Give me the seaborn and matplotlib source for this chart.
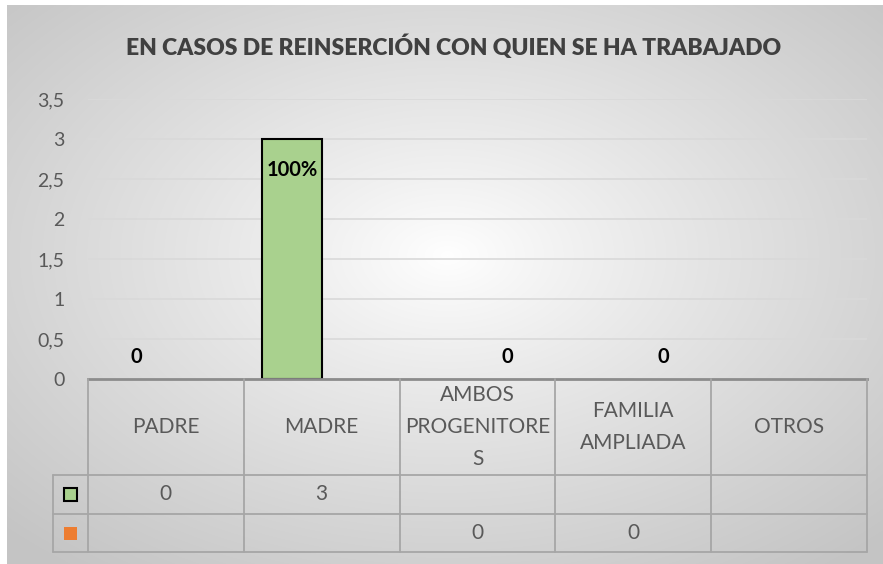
import numpy as np
import pandas as pd
import matplotlib
matplotlib.use("Agg")
import matplotlib.pyplot as plt
from matplotlib.ticker import FuncFormatter
import seaborn as sns

# data
categories = ["PADRE", "MADRE", "AMBOS PROGENITORES", "FAMILIA AMPLIADA", "OTROS"]
header_labels = ["PADRE", "MADRE", "AMBOS\nPROGENITORE\nS", "FAMILIA\nAMPLIADA", "OTROS"]
serie1 = [0, 3, None, None, None]
serie2 = [None, None, 0, 0, None]
serie1_labels = ["0", "100%", "", "", ""]
serie2_labels = ["", "", "0", "0", ""]
title = "EN CASOS DE REINSERCIÓN CON QUIEN SE HA TRABAJADO"

green = "#A9D18E"
orange = "#ED7D31"
txtcol = "#595959"

rows = []
for i, c in enumerate(categories):
    if serie1[i] is not None:
        rows.append({"cat": c, "serie": "s1", "val": serie1[i], "lab": serie1_labels[i]})
    if serie2[i] is not None:
        rows.append({"cat": c, "serie": "s2", "val": serie2[i], "lab": serie2_labels[i]})
df = pd.DataFrame(rows)

sns.set_style("white")
plt.rcParams["font.family"] = ["Lato", "DejaVu Sans"]

W, H = 883, 564
fig = plt.figure(figsize=(W / 100, H / 100), dpi=100)
fig.patch.set_facecolor("white")

# radial gradient background (white centre, grey edges)
bg = fig.add_axes([7 / W, 0, 1 - 7 / W, 1 - 5 / H], zorder=-10)
yy, xx = np.mgrid[0:559, 0:876]
dx = (xx - 440) / 438.0
dy = (yy - 250) / 280.0
r = np.sqrt(dx ** 2 + dy ** 2) / np.sqrt(2)
g = 1.0 - (1.0 - 0.77) * np.clip(r, 0, 1) ** 0.9
bg.imshow(np.dstack([g, g, g]), aspect="auto", extent=[0, 1, 0, 1])
bg.axis("off")

# main bar axes, pixel positions
x0, x1 = 88, 867
y0, ytop = 379, 99
ax = fig.add_axes([x0 / W, (H - y0) / H, (x1 - x0) / W, (y0 - ytop) / H])
ax.patch.set_alpha(0)

sns.barplot(data=df, x="cat", y="val", hue="serie", order=categories,
            hue_order=["s1", "s2"], palette={"s1": green, "s2": orange},
            width=0.76, dodge=True, saturation=1, legend=False, ax=ax, zorder=3)

# black outline on the first series (not on the empty bars)
for p in ax.containers[0]:
    if p.get_height() > 0:
        p.set_edgecolor("black")
        p.set_linewidth(1.5)
    else:
        p.set_linewidth(0)

# data labels
for cont, serie in zip(ax.containers, ["s1", "s2"]):
    sub = df[df["serie"] == serie].copy()
    sub["pos"] = sub["cat"].map({c: i for i, c in enumerate(categories)})
    sub = sub.sort_values("pos")
    for p, (_, row) in zip(cont, sub.iterrows()):
        cx = p.get_x() + p.get_width() / 2
        h = p.get_height()
        off = -22 if h > 0 else 16
        ax.annotate(row["lab"], (cx, h), xytext=(0, off), textcoords="offset points",
                    ha="center", va="center", fontsize=14.5, fontweight="bold",
                    color="black", zorder=5)

ax.set_ylim(0, 3.5)
ax.set_xlim(-0.5, 4.5)
ax.set_yticks(np.arange(0, 3.51, 0.5))
ax.yaxis.set_major_formatter(FuncFormatter(lambda v, p: ("%g" % v).replace(".", ",")))
ax.tick_params(axis="y", length=0, pad=17, labelsize=14, labelcolor=txtcol)
ax.set_xticks([])
ax.set_xlabel("")
ax.set_ylabel("")
ax.grid(axis="y", color="#D9D9D9", linewidth=1.2, zorder=0)
ax.set_axisbelow(True)
for s in ["left", "right", "top"]:
    ax.spines[s].set_visible(False)
ax.spines["bottom"].set_color("#8C8C8C")
ax.spines["bottom"].set_linewidth(2)
ax.spines["bottom"].set_zorder(4)

# data table below the plot
tl, tr, tt, tb = 53, 867, 379, 552
tax = fig.add_axes([tl / W, (H - tb) / H, (tr - tl) / W, (tb - tt) / H])
tax.set_xlim(tl, tr)
tax.set_ylim(tb, tt)
tax.axis("off")
lc = "#A6A6A6"
row_y = [379, 475, 514, 552]
colw = (x1 - x0) / len(categories)
col_x = [x0 + i * colw for i in range(len(categories) + 1)]

for yv in row_y[1:]:
    tax.plot([tl, tr], [yv, yv], color=lc, lw=1.3, clip_on=False)
for xv in col_x:
    tax.plot([xv, xv], [tt, tb], color=lc, lw=1.3, clip_on=False)
tax.plot([tl, tl], [row_y[1], tb], color=lc, lw=1.3, clip_on=False)

for i, lab in enumerate(header_labels):
    cx = (col_x[i] + col_x[i + 1]) / 2
    tax.text(cx, (row_y[0] + row_y[1]) / 2, lab, ha="center", va="center",
             fontsize=15, color=txtcol, linespacing=1.75)
    if serie1[i] is not None:
        tax.text(cx, (row_y[1] + row_y[2]) / 2, "%g" % serie1[i], ha="center",
                 va="center", fontsize=15, color=txtcol)
    if serie2[i] is not None:
        tax.text(cx, (row_y[2] + row_y[3]) / 2, "%g" % serie2[i], ha="center",
                 va="center", fontsize=15, color=txtcol)

# legend keys in the table
kx = (tl + x0) / 2
tax.add_patch(plt.Rectangle((kx - 6.5, (row_y[1] + row_y[2]) / 2 - 6.5), 13, 13,
                            facecolor=green, edgecolor="black", lw=1.5, clip_on=False))
tax.add_patch(plt.Rectangle((kx - 6.5, (row_y[2] + row_y[3]) / 2 - 6.5), 13, 13,
                            facecolor=orange, edgecolor="none", clip_on=False))

fig.text(454 / W, 1 - 47 / H, title, ha="center", va="center", fontsize=16.5,
         fontweight="heavy", color="#404040")

fig.savefig("out.png", dpi=100)
